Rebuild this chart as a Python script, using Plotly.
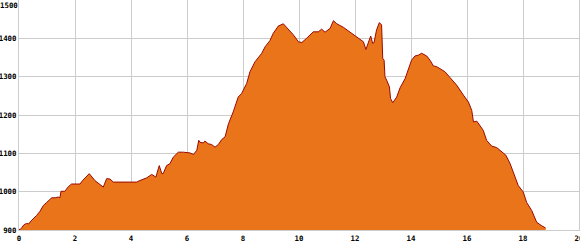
import plotly.graph_objects as go

distance_km = [0, 0.04, 0.11, 0.18, 0.27, 0.35, 0.42, 0.51, 0.63, 0.75, 0.87, 0.99, 1.11, 1.17, 1.29, 1.40, 1.46, 1.50,
               1.64, 1.76, 1.88, 2.18, 2.27, 2.51, 2.71, 3.01, 3.13, 3.25, 3.37, 3.55, 4.20, 4.32, 4.56, 4.74,
               4.89, 4.94, 5.01, 5.10, 5.15, 5.27, 5.39, 5.51, 5.69, 5.87, 6.11, 6.23, 6.35, 6.42,
               6.46, 6.58, 6.64, 6.76, 6.88, 7.00, 7.12, 7.24, 7.36, 7.48, 7.65, 7.83, 7.95, 8.13, 8.25,
               8.43, 8.55, 8.67, 8.79, 8.96, 9.08, 9.26, 9.44, 9.56, 9.80, 9.98, 10.10, 10.27, 10.51, 10.69,
               10.81, 10.93, 11.11, 11.23, 11.35, 11.58, 11.82, 12.05, 12.30, 12.39, 12.48, 12.56, 12.63,
               12.68, 12.77, 12.87, 12.95, 12.99, 13.04, 13.07, 13.13, 13.23, 13.27, 13.35, 13.49, 13.61,
               13.79, 13.90, 14.02, 14.14, 14.26, 14.38, 14.56, 14.68, 14.80, 14.92, 15.04, 15.21, 15.39,
               15.63, 15.87, 16.05, 16.17, 16.23, 16.35, 16.46, 16.58, 16.70, 16.88, 17.06, 17.24, 17.39,
               17.54, 17.71, 17.83, 18.01, 18.13, 18.31, 18.49, 18.67, 18.81]
elevation_m = [902, 901, 907, 914, 917, 916, 923, 929, 938, 949, 964, 972, 979, 984, 984, 986, 984, 1001,
               1001, 1013, 1020, 1020, 1029, 1047, 1029, 1012, 1034, 1033, 1025, 1025, 1025, 1029, 1036, 1045,
               1038, 1051, 1068, 1047, 1047, 1068, 1073, 1090, 1103, 1103, 1101, 1097, 1108, 1134,
               1129, 1127, 1132, 1125, 1123, 1116, 1123, 1136, 1143, 1177, 1208, 1247, 1256, 1282, 1313,
               1339, 1350, 1361, 1378, 1394, 1413, 1432, 1438, 1429, 1409, 1391, 1389, 1400, 1417, 1417,
               1424, 1416, 1426, 1446, 1438, 1429, 1417, 1404, 1391, 1371, 1387, 1406, 1387,
               1389, 1422, 1441, 1435, 1348, 1343, 1300, 1291, 1273, 1243, 1232, 1247, 1271,
               1295, 1321, 1343, 1354, 1356, 1361, 1354, 1343, 1328, 1326, 1321, 1313, 1298,
               1278, 1252, 1234, 1212, 1182, 1184, 1173, 1160, 1134, 1119, 1115, 1103, 1095,
               1073, 1042, 1016, 999, 972, 951, 920, 911, 905]

x_ticks = [0, 2, 4, 6, 8, 10, 12, 14, 16, 18, 20]
y_ticks = [900, 1000, 1100, 1200, 1300, 1400]
y_top_label = "1500"

fig = go.Figure()
fig.add_trace(go.Scatter(
    x=distance_km, y=elevation_m, mode="lines", fill="tozeroy",
    fillcolor="#EA741A", line=dict(color="#9A0A00", width=1), hoverinfo="skip",
))

font = dict(family="DejaVu Sans Mono", size=7.4, color="#000000")
fig.update_layout(
    width=580, height=250,
    margin=dict(l=19, r=1, t=0, b=20),
    paper_bgcolor="white", plot_bgcolor="white",
    showlegend=False,
    xaxis=dict(range=[0, 20], tickvals=x_ticks, ticktext=["<b>%d</b>" % v for v in x_ticks],
               showgrid=True, gridcolor="#CCCCCC", gridwidth=1, zeroline=False,
               showline=True, linecolor="#CCCCCC", mirror=True, ticks="",
               tickfont=font, ticklabelstandoff=1, ticklabeloverflow="allow", automargin=False),
    yaxis=dict(range=[900, 1500], tickvals=y_ticks, ticktext=["<b>%d</b>" % v for v in y_ticks],
               showgrid=True, gridcolor="#CCCCCC", gridwidth=1, zeroline=False,
               showline=True, linecolor="#CCCCCC", mirror=True, ticks="",
               tickfont=font, ticklabelstandoff=0, ticklabeloverflow="allow", automargin=False),
    annotations=[dict(text="<b>%s</b>" % y_top_label, x=0, y=1500, xref="paper", yref="y",
                      xanchor="right", yanchor="top", showarrow=False, font=font,
                      xshift=0, yshift=0, borderpad=0)],
)
fig.write_html("out.html")
